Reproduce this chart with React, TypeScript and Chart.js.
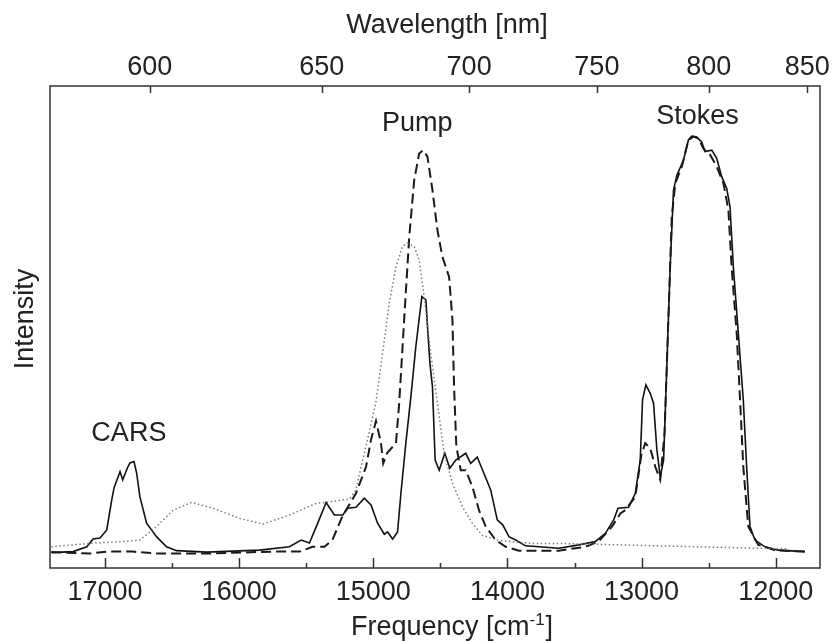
import React, { useEffect, useRef } from 'react';
import { Chart, registerables } from 'chart.js';
Chart.register(...registerables);

// Axis ticks
const freqTicks = [17000, 16000, 15000, 14000, 13000, 12000];
const freqMinorTicks = [17000, 16500, 16000, 15500, 15000, 14500, 14000, 13500, 13000, 12500, 12000];
const waveTicks = [600, 650, 700, 750, 800, 850];

// Solid trace
const solidFreq = [17400, 17238, 17136, 17089, 17037, 16987, 16950, 16933, 16888, 16868, 16834, 16814, 16784, 16764, 16740, 16690, 16616, 16541, 16467, 16244, 15848, 15625, 15538, 15476, 15414, 15352, 15290, 15228, 15191, 15129, 15067, 15017, 14968, 14918, 14894, 14856, 14819, 14794, 14757, 14720, 14683, 14638, 14608, 14596, 14578, 14559, 14539, 14509, 14467, 14430, 14385, 14311, 14274, 14225, 14175, 14125, 14076, 14034, 13989, 13939, 13865, 13617, 13468, 13344, 13270, 13208, 13176, 13097, 13047, 13010, 12993, 12968, 12935, 12911, 12886, 12861, 12836, 12812, 12787, 12762, 12737, 12688, 12651, 12626, 12589, 12552, 12527, 12477, 12440, 12403, 12366, 12341, 12316, 12279, 12242, 12217, 12192, 12155, 12080, 11981, 11783];
const solidInt = [3.2, 3.4, 4.4, 6.0, 6.2, 7.9, 14.1, 16.6, 20.0, 18.3, 20.7, 21.8, 22.1, 19.7, 14.8, 9.3, 6.5, 4.4, 3.6, 3.3, 3.7, 4.4, 5.8, 5.2, 9.3, 13.6, 11.0, 11.0, 12.4, 12.6, 14.5, 13.1, 9.3, 7.0, 7.5, 6.0, 7.5, 15.5, 26.0, 35.5, 45.9, 56.3, 55.6, 50.1, 42.5, 37.6, 22.4, 20.3, 23.8, 20.7, 22.4, 23.8, 21.7, 23.0, 19.6, 16.2, 10.0, 8.9, 6.5, 5.8, 4.6, 4.1, 4.8, 5.5, 7.2, 10.0, 12.4, 12.6, 15.5, 22.4, 34.9, 38.0, 36.2, 34.2, 24.5, 18.9, 22.4, 41.8, 62.5, 78.4, 81.5, 84.6, 88.8, 89.6, 89.4, 88.4, 86.4, 86.7, 85.0, 81.2, 78.8, 75.0, 62.5, 48.7, 34.9, 21.0, 8.6, 5.8, 4.4, 3.7, 3.4];

// Dashed trace
const dashedFreq = [17400, 17112, 16987, 16792, 16616, 16244, 15751, 15550, 15453, 15364, 15305, 15231, 15129, 15054, 15017, 14980, 14943, 14926, 14896, 14831, 14807, 14770, 14732, 14695, 14658, 14628, 14596, 14559, 14522, 14485, 14435, 14410, 14398, 14381, 14348, 14311, 14262, 14212, 14162, 14088, 14013, 13915, 13617, 13419, 13320, 13221, 13158, 13121, 13047, 13002, 12973, 12935, 12898, 12861, 12829, 12804, 12775, 12749, 12700, 12651, 12613, 12576, 12539, 12489, 12440, 12390, 12353, 12329, 12291, 12266, 12242, 12205, 12130, 12006, 11783];
const dashedInt = [3.3, 3.0, 3.4, 3.4, 3.0, 3.0, 3.4, 3.4, 4.4, 4.4, 5.8, 10.7, 15.5, 21.0, 26.6, 30.5, 26.0, 21.7, 23.9, 25.9, 34.2, 51.5, 68.7, 80.5, 86.0, 86.7, 85.3, 78.4, 70.1, 64.6, 60.4, 51.5, 37.6, 25.2, 20.3, 20.3, 16.9, 12.0, 8.6, 5.8, 4.4, 3.6, 3.6, 4.4, 5.5, 8.6, 11.3, 12.0, 14.8, 23.4, 25.9, 24.8, 21.0, 18.3, 27.9, 48.7, 72.9, 79.8, 83.3, 88.8, 89.5, 89.1, 87.0, 85.7, 83.3, 79.8, 74.3, 62.5, 48.7, 34.9, 21.0, 8.6, 4.8, 3.7, 3.4];

// Dotted trace
const dottedFreq = [17400, 17112, 16864, 16740, 16616, 16492, 16355, 16195, 15996, 15823, 15625, 15426, 15305, 15178, 15129, 15091, 15030, 14980, 14931, 14881, 14831, 14782, 14745, 14695, 14658, 14621, 14571, 14522, 14472, 14410, 14336, 14262, 14187, 14063, 13816, 13617, 12874, 12130, 11907];
const dottedInt = [4.4, 5.1, 5.5, 5.8, 8.6, 12.0, 13.6, 12.4, 10.3, 9.1, 11.0, 13.4, 13.8, 14.3, 16.2, 21.0, 28.2, 34.5, 44.5, 54.9, 62.5, 66.7, 67.4, 66.7, 63.9, 56.3, 44.5, 34.2, 23.8, 17.6, 12.7, 9.3, 6.8, 5.7, 5.1, 5.1, 4.6, 4.1, 4.0];

// Peak labels
const labelText = ['CARS', 'Pump', 'Stokes'];
const labelFreq = [16822, 14673, 12584];
const labelInt = [27.8, 92.3, 93.6];

// Axis titles
const topTitle = 'Wavelength [nm]';
const bottomTitleMain = 'Frequency [cm';
const bottomTitleSup = '-1';
const bottomTitleEnd = ']';
const yTitle = 'Intensity';

const X_MIN = 11670;
const X_MAX = 17410;
const FONT = '"Liberation Sans", Arial, sans-serif';
const TEXT = '#222';

const pairs = (xs: number[], ys: number[]) => xs.map((x, i) => ({ x, y: ys[i] }));

const framePlugin = {
  id: 'frameTicks',
  afterDatasetsDraw(chart: any) {
    const { ctx, chartArea: a, scales } = chart;
    const x = scales.x, xt = scales.xTop, y = scales.y;
    ctx.save();
    ctx.strokeStyle = '#333';
    ctx.lineWidth = 1.5;
    ctx.strokeRect(a.left, a.top, a.right - a.left, a.bottom - a.top);
    ctx.beginPath();
    freqMinorTicks.forEach((f) => {
      const px = Math.round(x.getPixelForValue(f)) + 0.5;
      const len = freqTicks.includes(f) ? 10 : 5;
      ctx.moveTo(px, a.bottom);
      ctx.lineTo(px, a.bottom - len);
    });
    waveTicks.forEach((w) => {
      const px = Math.round(xt.getPixelForValue(1e7 / w)) + 0.5;
      ctx.moveTo(px, a.top);
      ctx.lineTo(px, a.top + 7);
    });
    ctx.stroke();

    ctx.fillStyle = TEXT;
    ctx.font = `27px ${FONT}`;
    ctx.textAlign = 'center';
    ctx.textBaseline = 'middle';
    labelText.forEach((t, i) => {
      ctx.fillText(t, x.getPixelForValue(labelFreq[i]), y.getPixelForValue(labelInt[i]));
    });

    // top axis title
    const cx = (a.left + a.right) / 2;
    ctx.textBaseline = 'alphabetic';
    ctx.textAlign = 'center';
    ctx.fillText(topTitle, cx + 12, 33);

    // bottom axis title with superscript
    ctx.textAlign = 'left';
    const mainFont = `27px ${FONT}`;
    const supFont = `17px ${FONT}`;
    ctx.font = mainFont;
    const w1 = ctx.measureText(bottomTitleMain).width;
    const w3 = ctx.measureText(bottomTitleEnd).width;
    ctx.font = supFont;
    const w2 = ctx.measureText(bottomTitleSup).width;
    const total = w1 + w2 + w3 + 1;
    let sx = cx + 17 - total / 2;
    const by = 635;
    ctx.font = mainFont;
    ctx.fillText(bottomTitleMain, sx, by);
    sx += w1;
    ctx.font = supFont;
    ctx.fillText(bottomTitleSup, sx, by - 10);
    sx += w2 + 1;
    ctx.font = mainFont;
    ctx.fillText(bottomTitleEnd, sx, by);

    // y axis title
    ctx.translate(33, (a.top + a.bottom) / 2 - 8);
    ctx.rotate(-Math.PI / 2);
    ctx.textAlign = 'center';
    ctx.fillText(yTitle, 0, 0);
    ctx.restore();
  },
};

export default function App() {
  const ref = useRef<HTMLCanvasElement | null>(null);
  useEffect(() => {
    if (!ref.current) return;
    const chart = new Chart(ref.current, {
      type: 'line',
      data: {
        datasets: [
          {
            label: 'dotted',
            data: pairs(dottedFreq, dottedInt),
            borderColor: '#7a7a7a',
            borderWidth: 1.5,
            borderDash: [1.5, 2.5],
            pointRadius: 0,
            tension: 0,
            fill: false,
          },
          {
            label: 'dashed',
            data: pairs(dashedFreq, dashedInt),
            borderColor: '#1a1a1a',
            borderWidth: 2,
            borderDash: [10, 5],
            pointRadius: 0,
            tension: 0,
            fill: false,
          },
          {
            label: 'solid',
            data: pairs(solidFreq, solidInt),
            borderColor: '#111',
            borderWidth: 1.6,
            pointRadius: 0,
            tension: 0,
            fill: false,
          },
        ],
      },
      options: {
        animation: false,
        responsive: false,
        maintainAspectRatio: false,
        layout: { padding: { left: 0, right: 10, top: 0, bottom: 0 } },
        plugins: { legend: { display: false }, tooltip: { enabled: false } },
        scales: {
          x: {
            type: 'linear',
            position: 'bottom',
            min: X_MIN,
            max: X_MAX,
            reverse: true,
            grid: { display: false, drawTicks: false },
            border: { display: false },
            afterBuildTicks: (s: any) => {
              s.ticks = freqTicks.map((v) => ({ value: v }));
            },
            afterFit: (s: any) => {
              s.height = 73;
            },
            ticks: {
              autoSkip: false,
              maxRotation: 0,
              padding: 8,
              color: TEXT,
              font: { family: FONT, size: 27 },
              callback: (v: any) => String(v),
            },
            title: { display: false },
          },
          xTop: {
            type: 'linear',
            position: 'top',
            min: X_MIN,
            max: X_MAX,
            reverse: true,
            grid: { display: false, drawTicks: false },
            border: { display: false },
            afterBuildTicks: (s: any) => {
              s.ticks = waveTicks.map((w) => ({ value: 1e7 / w }));
            },
            afterFit: (s: any) => {
              s.height = 86;
            },
            ticks: {
              autoSkip: false,
              maxRotation: 0,
              padding: 2,
              color: TEXT,
              font: { family: FONT, size: 27 },
              callback: (v: any) => String(Math.round(1e7 / Number(v))),
            },
            title: { display: false },
          },
          y: {
            type: 'linear',
            position: 'left',
            min: 0,
            max: 100,
            grid: { display: false, drawTicks: false },
            border: { display: false },
            ticks: { display: false },
            afterFit: (s: any) => {
              s.width = 50;
            },
            title: { display: false },
          },
        },
      },
      plugins: [framePlugin],
    } as any);
    return () => chart.destroy();
  }, []);
  return (
    <div style={{ position: 'absolute', left: 0, top: 0, width: 832, height: 641, background: '#fff' }}>
      <canvas ref={ref} width={832} height={641} style={{ display: 'block', width: 832, height: 641 }} />
    </div>
  );
}
